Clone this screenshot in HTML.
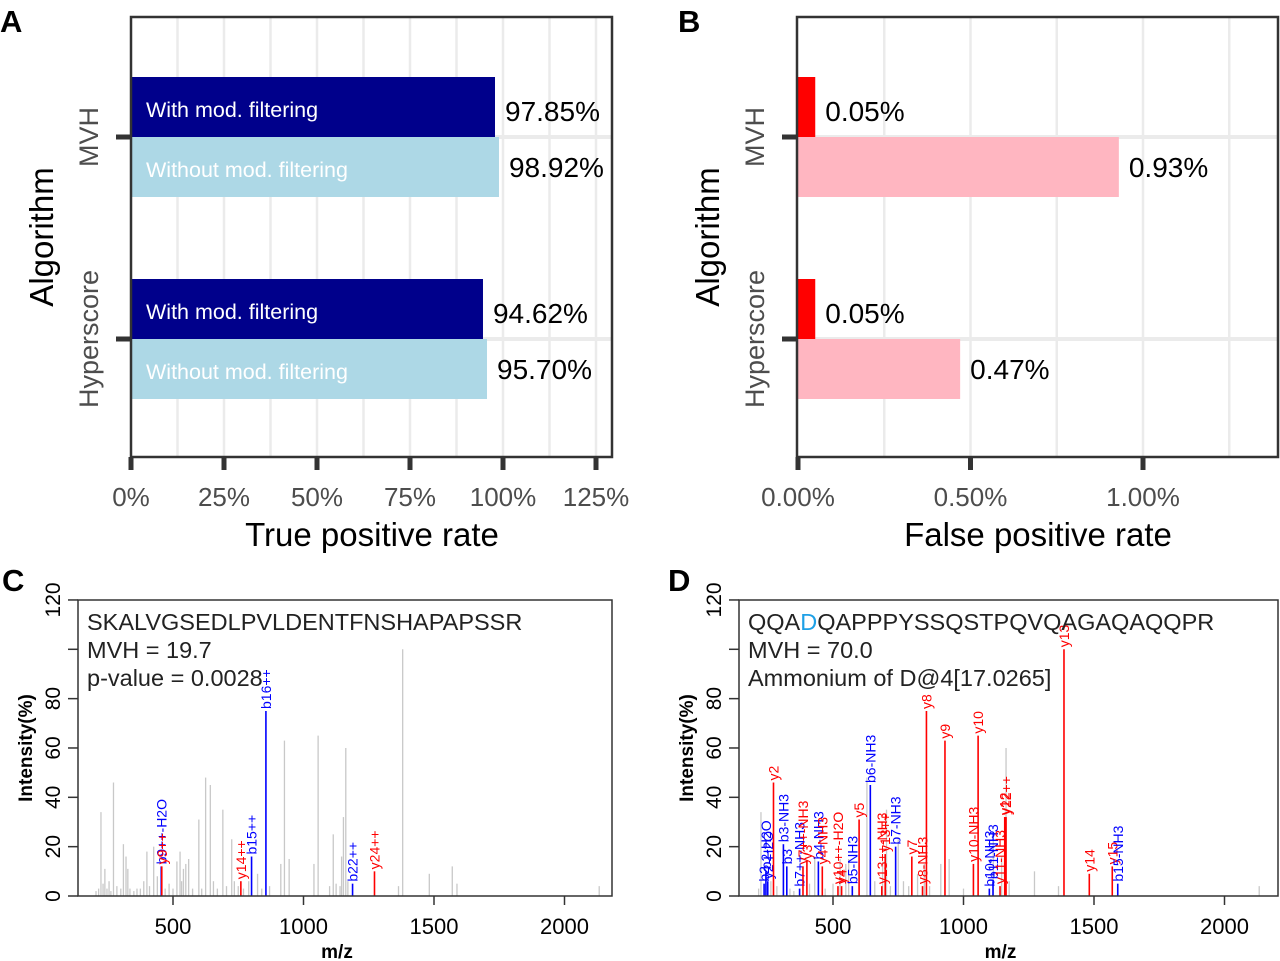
<!DOCTYPE html>
<html><head><meta charset="utf-8">
<style>
html,body{margin:0;padding:0;background:#fff;}
svg{display:block;font-family:"Liberation Sans",Arial,sans-serif;}
</style></head>
<body>
<svg id="fig" width="1280" height="961" viewBox="0 0 1280 961" xmlns="http://www.w3.org/2000/svg">
<g id="pA"></g>
<g id="pB"></g>
<g id="pC"></g>
<g id="pD"></g>
</svg>
<script>
// ---- Panel A/B data ----
const algorithms = ["MVH", "Hyperscore"];
const tprWith = [97.85, 94.62];
const tprWithout = [98.92, 95.70];
const tprTicks = [0, 25, 50, 75, 100, 125];
const tprTickLabels = ["0%", "25%", "50%", "75%", "100%", "125%"];
const fprWith = [0.05, 0.05];
const fprWithout = [0.93, 0.47];
const fprTicks = [0, 0.5, 1.0];
const fprTickLabels = ["0.00%", "0.50%", "1.00%"];
// ---- Panel C data ----
const cGreyMz = [205,215,224,232,239,247,255,262,272,285,300,310,320,327,335,350,362,375,388,400,410,426,440,470,485,500,515,527,533,540,549,560,575,599,610,625,643,655,670,691,705,725,735,750,770,790,824,840,870,913,927,945,1040,1056,1100,1114,1125,1140,1146,1153,1162,1170,1364,1380,1482,1570,1588,2133];
const cGreyInt = [2,3,34,5,11,3,6,2,46,4,3,21,16,11,3,2,3,3,6,18,4,20,8,3,5,3,14,18,6,11,13,15,3,31,3,48,45,6,3,35,4,23,6,4,3,6,9,3,4,13,63,15,13,65,4,25,5,4,16,32,60,6,4,100,9,12,5,4];
const cAnnMz = [455,457,760,801,856,1188,1272];
const cAnnInt = [12,12,6,16,75,5,10];
const cAnnLab = ["b9++-H2O","y9++","y14++","b15++","b16++","b22++","y24++"];
const cAnnType = ["b","y","y","b","b","b","y"];
// ---- Panel D data ----
const dGreyMz = [215,224,262,285,335,350,410,430,470,500,527,549,560,600,630,643,660,690,705,720,750,770,790,824,850,870,913,945,1000,1114,1146,1163,1175,1272,1364,2133];
const dGreyInt = [3,34,6,4,3,2,5,16,3,5,15,13,15,16,48,45,6,14,35,4,23,6,4,9,13,4,13,15,3,25,16,60,6,10,4,4];
const dAnnMz = [236,243,250,272,310,323,372,385,400,444,459,519,533,574,600,643,687,700,740,802,843,858,929,1038,1056,1099,1113,1140,1158,1163,1385,1482,1570,1591];
const dAnnInt = [5,10,6,46,21,12,3,12,14,14,12,4,4,4,31,45,4,17,20,16,4,75,63,13,65,3,6,4,32,32,100,9,12,5];
const dAnnLab = ["b2","b2-H2O","y2-H2O","y2","b3-NH3","b3","b7++-NH3","y7++-NH3","y3","b4-NH3","y4-NH3","y10++-H2O","y4","b5-NH3","y5","b6-NH3","y13++-NH3","y13++","b7-NH3","y7","y8-NH3","y8","y9","y10-NH3","y10","b10-NH3","b11-NH3","y11-NH3","y12","y22++","y13","y14","y15","b15-NH3"];
const dAnnType = ["b","b","b","y","b","b","b","y","y","b","y","y","y","b","y","b","y","y","b","y","y","y","y","y","y","b","b","y","y","y","y","y","y","b"];
const specTicksX = [500,1000,1500,2000];
const specTicksY = [0,20,40,60,80,100,120];
const specTickLabY = ["0","20","40","60","80","","120"];

const NS = "http://www.w3.org/2000/svg";
function mk(parent, tag, attrs, text) {
  const el = document.createElementNS(NS, tag);
  for (const k in attrs) el.setAttribute(k, attrs[k]);
  if (text !== undefined) el.textContent = text;
  parent.appendChild(el);
  return el;
}

function barPanel(g, o) {
  const sx = v => o.x0 + (v - o.vmin) * o.k;
  const catY = [137, 339];
  o.grid.forEach(v => {
    const l = mk(g, "line", {x1: sx(v), x2: sx(v), y1: 17, y2: 457, stroke: "#ebebeb", "stroke-width": 2.5});
    
    
  });
  catY.forEach(y => {
    const l = mk(g, "line", {x1: o.left, x2: o.right, y1: y, y2: y, stroke: "#ebebeb", "stroke-width": 4});
    
    
  });
  for (let i = 0; i < algorithms.length; i++) {
    const y = catY[i];
    const r1 = mk(g, "rect", {x: sx(0), y: y - 60, width: sx(o.w[i]) - sx(0), height: 60, fill: o.c1});
    
    
    const r2 = mk(g, "rect", {x: sx(0), y: y, width: sx(o.wo[i]) - sx(0), height: 60, fill: o.c2});
    
    
    if (o.inner) {
      const t1 = mk(g, "text", {x: 146, y: y - 20, fill: "#fff", "font-size": 21.5}, "With mod. filtering");
      
      
      const t2 = mk(g, "text", {x: 146, y: y + 40, fill: "#fff", "font-size": 21.5}, "Without mod. filtering");
      
      
    }
    const v1 = mk(g, "text", {x: sx(o.w[i]) + 10, y: y - 16, "font-size": 28, fill: "#000"}, o.fmt(o.w[i]));
    
    
    const v2 = mk(g, "text", {x: sx(o.wo[i]) + 10, y: y + 40, "font-size": 28, fill: "#000"}, o.fmt(o.wo[i]));
    
    
    const tk = mk(g, "line", {x1: o.left - 15, x2: o.left, y1: y, y2: y, stroke: "#333", "stroke-width": 5});
    
    
    const cl = mk(g, "text", {transform: `translate(${o.left - 33},${y}) rotate(-90)`, "text-anchor": "middle", "font-size": 27, fill: "#4d4d4d"}, algorithms[i]);
    
    
  }
  const fr = mk(g, "rect", {x: o.left, y: 17, width: o.right - o.left, height: 440, fill: "none", stroke: "#333", "stroke-width": 2.5});
  
  
  o.ticks.forEach((v, i) => {
    const t = mk(g, "line", {x1: sx(v), x2: sx(v), y1: 457, y2: 470, stroke: "#333", "stroke-width": 5});
    
    
    const tl = mk(g, "text", {x: sx(v), y: 506, "text-anchor": "middle", "font-size": 26, fill: "#4d4d4d"}, o.tickLabels[i]);
    
    
  });
  const xt = mk(g, "text", {x: o.titleX, y: 546, "text-anchor": "middle", "font-size": 33, fill: "#000"}, o.title);
  
  
  const yt = mk(g, "text", {transform: `translate(${o.left - 78},237) rotate(-90)`, "text-anchor": "middle", "font-size": 33, fill: "#000"}, "Algorithm");
  
  
  const pl = mk(g, "text", {x: o.letterX, y: 32, "font-size": 31, "font-weight": "bold"}, o.letter);
  
  
}

barPanel(document.getElementById("pA"), {
  x0: 131, vmin: 0, k: 3.72, left: 131, right: 612,
  grid: [12.5, 25, 37.5, 50, 62.5, 75, 87.5, 100, 112.5, 125],
  w: tprWith, wo: tprWithout, c1: "#00008b", c2: "#add8e6", inner: true,
  fmt: v => v.toFixed(2) + "%", ticks: tprTicks, tickLabels: tprTickLabels,
  title: "True positive rate", titleX: 372, letter: "A", letterX: 0
});
barPanel(document.getElementById("pB"), {
  x0: 798, vmin: 0, k: 345, left: 797, right: 1278,
  grid: [0.25, 0.5, 0.75, 1.0, 1.25],
  w: fprWith, wo: fprWithout, c1: "#ff0000", c2: "#ffb6c1", inner: false,
  fmt: v => v.toFixed(2) + "%", ticks: fprTicks, tickLabels: fprTickLabels,
  title: "False positive rate", titleX: 1038, letter: "B", letterX: 678
});

function specPanel(g, o) {
  const sx = m => o.x500 + (m - 500) * 0.261;
  const sy = v => 896 - v * 2.467;
  o.gm.forEach((m, i) => {
    const l = mk(g, "line", {x1: sx(m), x2: sx(m), y1: sy(0), y2: sy(o.gi[i]), stroke: "#c8c8c8", "stroke-width": 1.3});
    
    
  });
  o.am.forEach((m, i) => {
    const col = o.at[i] === "b" ? "#0000ff" : "#ff0000";
    const l = mk(g, "line", {x1: sx(m), x2: sx(m), y1: sy(0), y2: sy(o.ai[i]), stroke: col, "stroke-width": 1.6});
    
    
    const t = mk(g, "text", {transform: `translate(${sx(m) + 5},${sy(o.ai[i]) - 2}) rotate(-90)`, "font-size": 14, fill: col}, o.al[i]);
    
    
  });
  const fr = mk(g, "rect", {x: o.left, y: 600, width: o.right - o.left, height: 296, fill: "none", stroke: "#333", "stroke-width": 1.5});
  
  
  specTicksY.forEach((v, i) => {
    const t = mk(g, "line", {x1: o.left - 10, x2: o.left, y1: sy(v), y2: sy(v), stroke: "#333", "stroke-width": 1.5});
    
    
    if (specTickLabY[i]) {
      const tl = mk(g, "text", {transform: `translate(${o.left - 18},${sy(v)}) rotate(-90)`, "text-anchor": "middle", "font-size": 21, fill: "#000"}, specTickLabY[i]);
      
      
    }
  });
  specTicksX.forEach(v => {
    const t = mk(g, "line", {x1: sx(v), x2: sx(v), y1: 896, y2: 905, stroke: "#333", "stroke-width": 1.5});
    
    
    const tl = mk(g, "text", {x: sx(v), y: 934, "text-anchor": "middle", "font-size": 22, fill: "#000"}, String(v));
    
    
  });
  const xt = mk(g, "text", {x: (o.left + o.right) / 2 - 8, y: 958, "text-anchor": "middle", "font-size": 19, "font-weight": "bold"}, "m/z");
  
  
  const yt = mk(g, "text", {transform: `translate(${o.left - 46},748) rotate(-90)`, "text-anchor": "middle", "font-size": 19, "font-weight": "bold"}, "Intensity(%)");
  
  
  o.lines.forEach((ln, i) => {
    const t = mk(g, "text", {x: o.left + 9, y: 630 + i * 28, "font-size": 23.5, fill: "#222"});
    
    
    if (Array.isArray(ln)) {
      ln.forEach(seg => { mk(t, "tspan", seg[1] ? {fill: seg[1]} : {}, seg[0]); });
    } else t.textContent = ln;
  });
  const pl = mk(g, "text", {x: o.letterX, y: 591, "font-size": 31, "font-weight": "bold"}, o.letter);
  
  
}

specPanel(document.getElementById("pC"), {
  x500: 173, left: 78, right: 612,
  gm: cGreyMz, gi: cGreyInt, am: cAnnMz, ai: cAnnInt, al: cAnnLab, at: cAnnType,
  lines: ["SKALVGSEDLPVLDENTFNSHAPAPSSR", "MVH = 19.7", "p-value = 0.0028"],
  letter: "C", letterX: 2
});
specPanel(document.getElementById("pD"), {
  x500: 833, left: 739, right: 1278,
  gm: dGreyMz, gi: dGreyInt, am: dAnnMz, ai: dAnnInt, al: dAnnLab, at: dAnnType,
  lines: [[["QQA", null], ["D", "#1ea0e6"], ["QAPPPYSSQSTPQVQAGAQAQQPR", null]], "MVH = 70.0", "Ammonium of D@4[17.0265]"],
  letter: "D", letterX: 668
});
</script>
</body></html>
